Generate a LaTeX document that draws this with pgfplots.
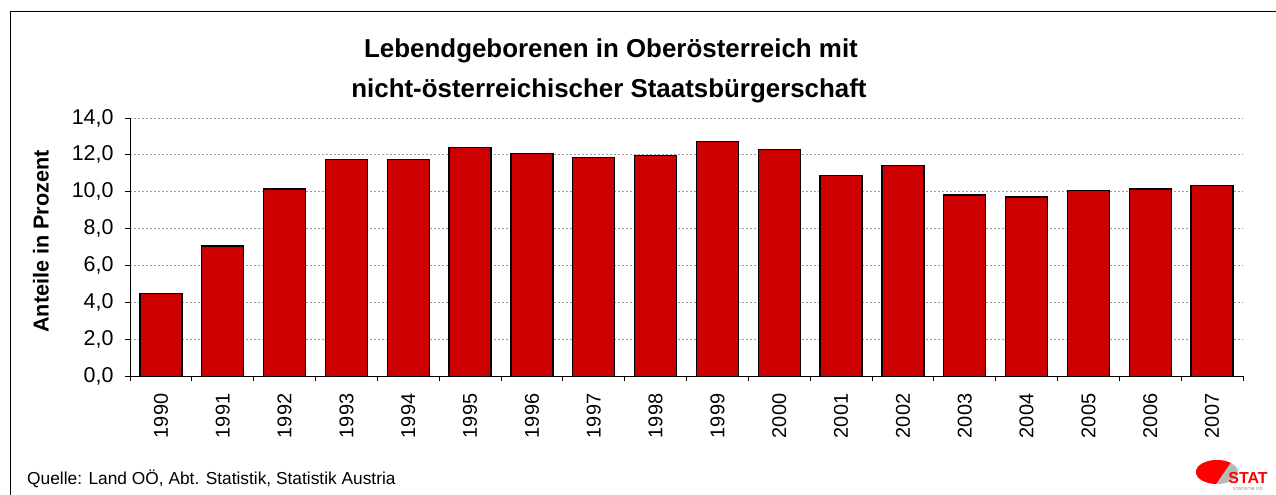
\documentclass[border=0pt]{standalone}
\usepackage{pgfplots}
\pgfplotsset{compat=1.18}
\usepackage{fontspec}
\setmainfont{Liberation Sans}
\definecolor{barred}{HTML}{CC0000}
\begin{document}
\begin{tikzpicture}[x=1bp,y=1bp]
\useasboundingbox (0,0) rectangle (1276,495);
\draw[line width=1.4bp] (10.5,-5) -- (10.5,483.5) -- (1290,483.5);
\begin{axis}[
  at={(130bp,118.7bp)}, anchor=south west,
  scale only axis, width=1113bp, height=258.3bp,
  xmin=-0.5, xmax=17.5, ymin=0, ymax=14,
  axis x line*=bottom, axis y line*=left,
  axis line style={black, line width=0.9bp, -},
  tick align=outside, major tick length=5bp,
  tick style={black, line width=0.9bp},
  ytick={0,2,...,14},
  yticklabel style={/pgf/number format/fixed, /pgf/number format/fixed zerofill,
     /pgf/number format/precision=1, /pgf/number format/use comma,
     /pgf/number format/assume math mode=true,
     font=\fontsize{21.5}{21.5}\selectfont, xshift=-8bp},
  ymajorgrids,
  grid style={gray!80, dash pattern=on 2bp off 2bp, line width=0.8bp},
  xtick={-0.5,0.5,...,17.5},
  xticklabels={,,},
  extra x ticks={0,1,...,17},
  extra x tick labels={1990,1991,1992,1993,1994,1995,1996,1997,1998,1999,2000,2001,2002,2003,2004,2005,2006,2007},
  extra x tick style={major tick length=0pt,
     xticklabel style={rotate=90, anchor=east, font=\fontsize{20}{20}\selectfont, xshift=-14bp}},
]
\addplot[ybar, bar width=42bp, fill=barred, draw=black, line width=1.3bp] coordinates {
(0,4.50) (1,7.06) (2,10.15) (3,11.76) (4,11.76) (5,12.39) (6,12.08) (7,11.87) (8,11.98)
(9,12.72) (10,12.30) (11,10.89) (12,11.44) (13,9.83) (14,9.72) (15,10.06) (16,10.15) (17,10.35)};
\end{axis}
\node[font=\fontsize{26}{26}\selectfont\bfseries, anchor=base] at (611,437) {Lebendgeborenen in Oberösterreich mit};
\node[font=\fontsize{26}{26}\selectfont\bfseries, anchor=base] at (609,397) {nicht-österreichischer Staatsbürgerschaft};
\node[rotate=90, font=\fontsize{21.7}{21.7}\selectfont\bfseries] at (41,253.5) {Anteile in Prozent};
\node[anchor=base west, inner sep=0, font=\fontsize{17.4}{17.4}\selectfont] at (27,10) {Quelle: Land OÖ, Abt. Statistik, Statistik Austria};
% logo
\fill[gray!55] (1217,23) ellipse (21 and 12);
\begin{scope}
\clip (1217,23) ellipse (21 and 12);
\fill[red] (1190,8) -- (1190,40) -- (1236,40) -- (1214,8) -- cycle;
\end{scope}
\node[font=\fontsize{16}{16}\selectfont\bfseries, text=red, inner sep=0] at (1248,17) {STAT};
\node[font=\fontsize{4.5}{4.5}\selectfont, text=gray, inner sep=0] at (1248,6) {STATISTIK OÖ};
\end{tikzpicture}
\end{document}
